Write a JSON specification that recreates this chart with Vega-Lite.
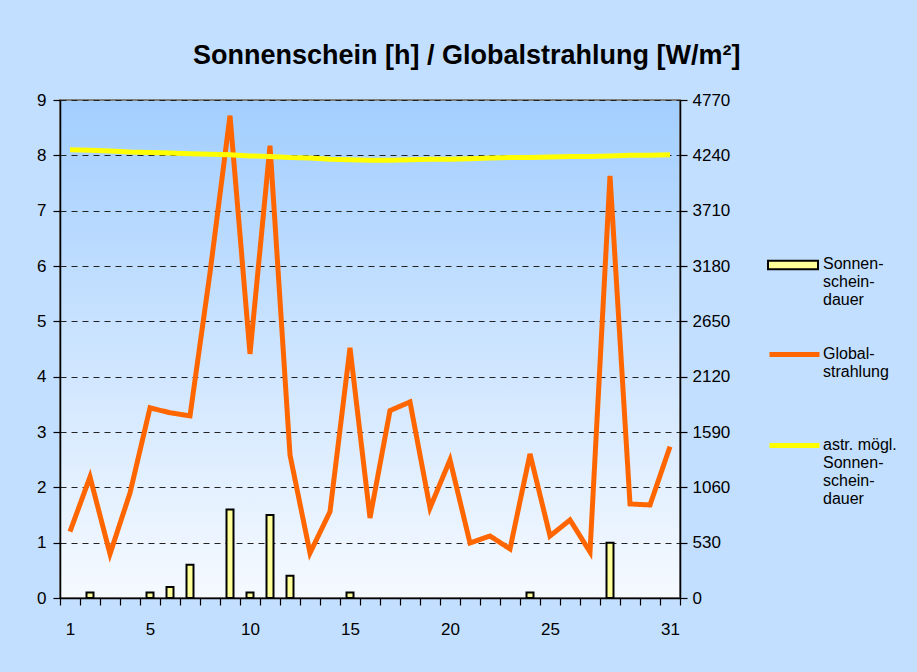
{
  "$schema": "https://vega.github.io/schema/vega-lite/v6.json",
  "width": 620,
  "height": 498,
  "autosize": "none",
  "padding": {"left": 60, "top": 100, "right": 237, "bottom": 74},
  "background": "#C2DFFF",
  "title": {
    "text": "Sonnenschein [h] / Globalstrahlung [W/m²]",
    "font": "Liberation Sans",
    "fontSize": 27,
    "fontWeight": "bold",
    "color": "black",
    "anchor": "middle",
    "frame": "bounds",
    "baseline": "bottom",
    "offset": -6
  },
  "data": {
    "values": [
      {"day": 1, "sonne": 0, "global": 636, "astro": 8.10},
      {"day": 2, "sonne": 0.1, "global": 1160, "astro": 8.09},
      {"day": 3, "sonne": 0, "global": 422, "astro": 8.08},
      {"day": 4, "sonne": 0, "global": 1006, "astro": 8.06},
      {"day": 5, "sonne": 0.1, "global": 1821, "astro": 8.05},
      {"day": 6, "sonne": 0.2, "global": 1775, "astro": 8.04},
      {"day": 7, "sonne": 0.6, "global": 1744, "astro": 8.03},
      {"day": 8, "sonne": 0, "global": 3115, "astro": 8.02},
      {"day": 9, "sonne": 1.6, "global": 4620, "astro": 8.01},
      {"day": 10, "sonne": 0.1, "global": 2338, "astro": 7.99},
      {"day": 11, "sonne": 1.5, "global": 4332, "astro": 7.98},
      {"day": 12, "sonne": 0.4, "global": 1371, "astro": 7.96},
      {"day": 13, "sonne": 0, "global": 431, "astro": 7.95},
      {"day": 14, "sonne": 0, "global": 827, "astro": 7.93},
      {"day": 15, "sonne": 0.1, "global": 2396, "astro": 7.92},
      {"day": 16, "sonne": 0, "global": 767, "astro": 7.91},
      {"day": 17, "sonne": 0, "global": 1795, "astro": 7.91},
      {"day": 18, "sonne": 0, "global": 1878, "astro": 7.92},
      {"day": 19, "sonne": 0, "global": 863, "astro": 7.93},
      {"day": 20, "sonne": 0, "global": 1323, "astro": 7.93},
      {"day": 21, "sonne": 0, "global": 527, "astro": 7.94},
      {"day": 22, "sonne": 0, "global": 594, "astro": 7.95},
      {"day": 23, "sonne": 0, "global": 470, "astro": 7.96},
      {"day": 24, "sonne": 0.1, "global": 1380, "astro": 7.96},
      {"day": 25, "sonne": 0, "global": 594, "astro": 7.97},
      {"day": 26, "sonne": 0, "global": 748, "astro": 7.98},
      {"day": 27, "sonne": 0, "global": 441, "astro": 7.98},
      {"day": 28, "sonne": 1.0, "global": 4044, "astro": 7.99},
      {"day": 29, "sonne": 0, "global": 901, "astro": 8.00},
      {"day": 30, "sonne": 0, "global": 891, "astro": 8.00},
      {"day": 31, "sonne": 0, "global": 1450, "astro": 8.01}
    ]
  },
  "encoding": {
    "x": {
      "field": "day",
      "type": "ordinal",
      "scale": {"paddingInner": 0, "paddingOuter": 0},
      "axis": {
        "title": null,
        "labelAngle": 0,
        "tickBand": "extent",
        "labelPadding": 16,
        "labelExpr": "indexof([1,5,10,15,20,25,31], datum.value) >= 0 ? datum.label : ''"
      }
    }
  },
  "layer": [
    {
      "transform": [{"filter": "datum.sonne > 0"}],
      "mark": {"type": "bar", "width": {"band": 0.35}, "stroke": "black", "strokeWidth": 2},
      "encoding": {
        "y": {
          "field": "sonne",
          "type": "quantitative",
          "scale": {"domain": [0, 9], "nice": false},
          "axis": {
            "orient": "left",
            "title": null,
            "values": [0, 1, 2, 3, 4, 5, 6, 7, 8, 9],
            "grid": true,
            "gridColor": "#222222",
            "gridDash": [6, 5],
            "gridWidth": 1,
            "labelPadding": 7
          }
        },
        "color": {
          "datum": "Sonnenscheindauer",
          "type": "nominal",
          "scale": {"domain": ["Sonnenscheindauer"], "range": ["#FFFF99"]},
          "legend": {
            "title": null,
            "orient": "none",
            "legendX": 707,
            "legendY": 130,
            "padding": 0,
            "symbolSize": 2500,
            "symbolType": "M-1,0.19H1V0.53H-1Z",
            "symbolStrokeColor": "black",
            "symbolStrokeWidth": 2,
            "labelFont": "Liberation Sans",
            "labelFontSize": 16,
            "labelColor": "black",
            "labelOffset": 4,
            "labelBaseline": "top",
            "labelLimit": 200,
            "labelExpr": "['Sonnen-','schein-','dauer']"
          }
        }
      }
    },
    {
      "mark": {"type": "line", "color": "#FF6600", "strokeWidth": 5, "strokeJoin": "miter"},
      "encoding": {
        "y": {
          "field": "global",
          "type": "quantitative",
          "scale": {"domain": [0, 4770], "nice": false},
          "axis": {
            "orient": "right",
            "title": null,
            "values": [0, 530, 1060, 1590, 2120, 2650, 3180, 3710, 4240, 4770],
            "format": "d",
            "grid": false,
            "labelPadding": 5
          }
        },
        "strokeDash": {
          "datum": "Globalstrahlung",
          "type": "nominal",
          "scale": {"domain": ["Globalstrahlung"], "range": [[1, 0]]},
          "legend": {
            "title": null,
            "orient": "none",
            "legendX": 707,
            "legendY": 218,
            "padding": 0,
            "symbolSize": 2500,
            "symbolType": "M-1,0.36H1",
            "symbolStrokeColor": "#FF6600",
            "symbolStrokeWidth": 5,
            "labelFont": "Liberation Sans",
            "labelFontSize": 16,
            "labelColor": "black",
            "labelOffset": 1,
            "labelBaseline": "top",
            "labelLimit": 200,
            "labelExpr": "['Global-','strahlung']"
          }
        }
      }
    },
    {
      "mark": {"type": "line", "color": "#FFFF00", "strokeWidth": 5},
      "encoding": {
        "y": {
          "field": "astro",
          "type": "quantitative",
          "scale": {"domain": [0, 9], "nice": false},
          "axis": null
        },
        "opacity": {
          "datum": "astr. mögl. Sonnenscheindauer",
          "type": "nominal",
          "scale": {"domain": ["astr. mögl. Sonnenscheindauer"], "range": [1]},
          "legend": {
            "title": null,
            "orient": "none",
            "legendX": 707,
            "legendY": 309,
            "padding": 0,
            "symbolSize": 2500,
            "symbolType": "M-1,0.36H1",
            "symbolStrokeColor": "#FFFF00",
            "symbolStrokeWidth": 5,
            "labelFont": "Liberation Sans",
            "labelFontSize": 16,
            "labelColor": "black",
            "labelOffset": 1,
            "labelBaseline": "top",
            "labelLimit": 200,
            "labelExpr": "['astr. mögl.','Sonnen-','schein-','dauer']"
          }
        }
      }
    }
  ],
  "resolve": {"scale": {"y": "independent"}, "axis": {"y": "independent"}},
  "config": {
    "font": "Liberation Sans",
    "view": {
      "stroke": "#808080",
      "strokeWidth": 2,
      "fill": {
        "gradient": "linear",
        "x1": 0, "y1": 0, "x2": 0, "y2": 1,
        "stops": [
          {"offset": 0, "color": "#A2CEFF"},
          {"offset": 1, "color": "#F6FAFF"}
        ]
      }
    },
    "axis": {
      "labelFont": "Liberation Sans",
      "labelFontSize": 17,
      "labelColor": "black",
      "domainColor": "black",
      "domainWidth": 1.5,
      "tickColor": "black",
      "tickWidth": 1.2,
      "tickSize": 7
    }
  }
}
